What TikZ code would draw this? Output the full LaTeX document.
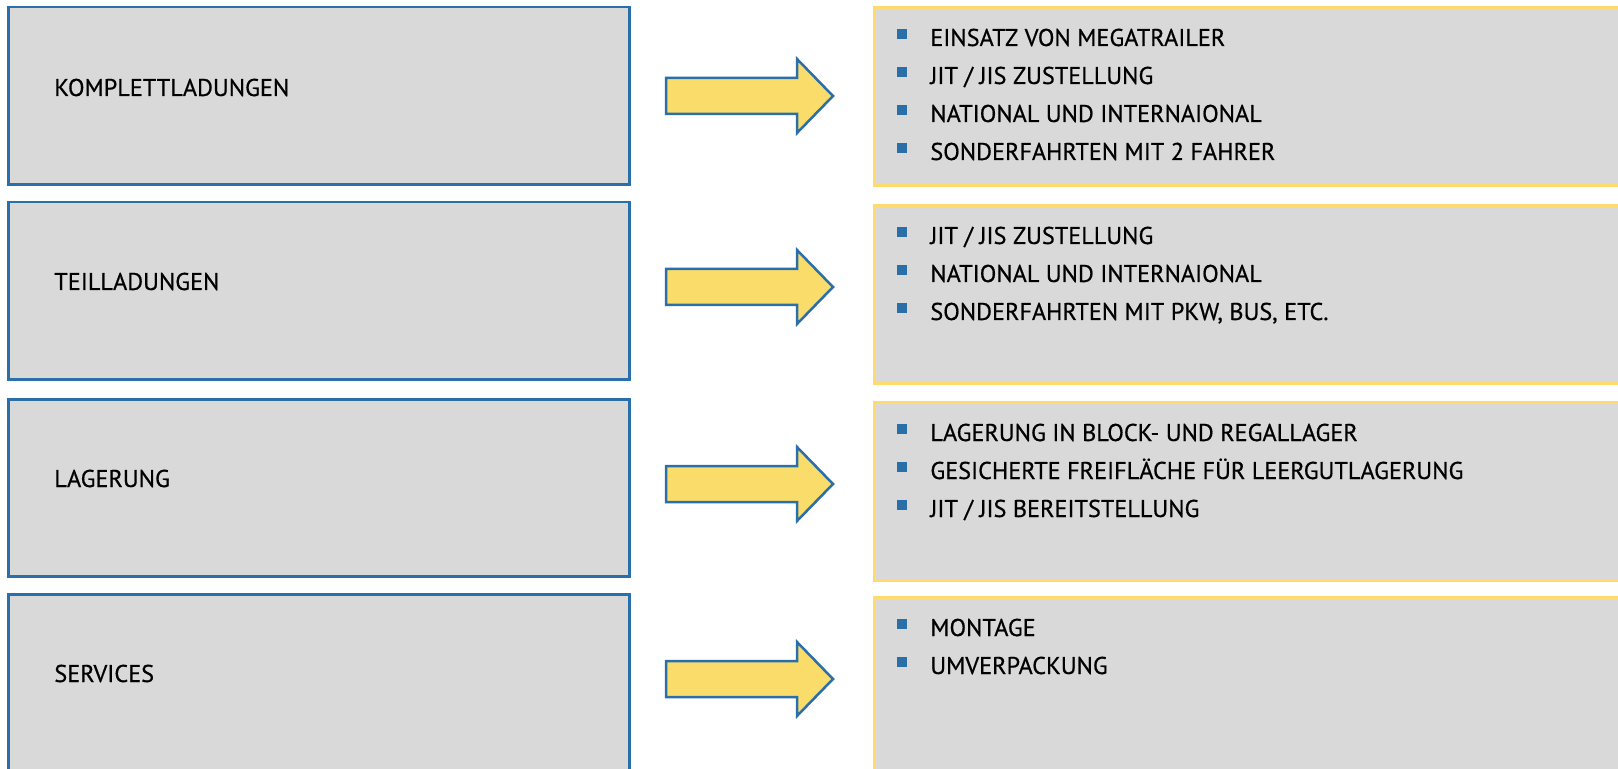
\documentclass[tikz,border=0pt]{standalone}
\usepackage{fontspec}
\setmainfont{PT Sans}
\newfontfamily\labelfont{PT Sans}[FakeBold=0.6]
\usetikzlibrary{positioning}

\definecolor{boxgray}{HTML}{D9D9D9}
\definecolor{boxblue}{HTML}{2A6EAA}
\definecolor{boxyellow}{HTML}{FFDB6E}
\definecolor{arrowyellow}{HTML}{FADC6B}

\newcommand{\sqbullet}{\textcolor{boxblue}{\rule[1.4mm]{2mm}{2mm}}\hspace{4.6mm}}

\tikzset{
  leftbox/.style={draw=boxblue, line width=0.5mm, fill=boxgray, anchor=north west,
    minimum width=124.2mm, minimum height=35.4mm, inner sep=0pt},
  rightbox/.style={draw=boxyellow, line width=0.6mm, fill=boxgray, anchor=north west,
    minimum width=160mm, minimum height=35.6mm, inner sep=0pt},
  caption/.style={anchor=base west, inner sep=0pt, font=\labelfont\fontsize{13.8pt}{16pt}\selectfont},
  listitem/.style={anchor=base west, inner sep=0pt, font=\labelfont\fontsize{13.8pt}{16pt}\selectfont},
  blockarrow/.style={draw=boxblue, line width=0.5mm, fill=arrowyellow, line join=miter}
}

\begin{document}
\begin{tikzpicture}[x=0.2mm, y=-0.2mm]
  \clip (0,0) rectangle (1618,769);
  \fill[white] (0,0) rectangle (1618,769);

  % left column
  \node[leftbox] (komplett) at (7,6) {};
  \node[leftbox] (teil) at (7,201) {};
  \node[leftbox] (lager) at (7,398) {};
  \node[leftbox] (service) at (7,593) {};
  \node[caption] (komplett-text) at (54,96) {KOMPLETTLADUNGEN};
  \node[caption] (teil-text) at (54,290) {TEILLADUNGEN};
  \node[caption] (lager-text) at (54,487) {LAGERUNG};
  \node[caption] (service-text) at (54,682) {SERVICES};

  % arrows
  \coordinate (a1) at (666,96);
  \coordinate (a2) at (666,287);
  \coordinate (a3) at (666,484);
  \coordinate (a4) at (666,679);
  \draw[blockarrow] (a1) ++(0,-18) -- ++(131,0) -- ++(0,-19) -- ++(36,37) -- ++(-36,37) -- ++(0,-19) -- ++(-131,0) -- cycle;
  \draw[blockarrow] (a2) ++(0,-18) -- ++(131,0) -- ++(0,-19) -- ++(36,37) -- ++(-36,37) -- ++(0,-19) -- ++(-131,0) -- cycle;
  \draw[blockarrow] (a3) ++(0,-18) -- ++(131,0) -- ++(0,-19) -- ++(36,37) -- ++(-36,37) -- ++(0,-19) -- ++(-131,0) -- cycle;
  \draw[blockarrow] (a4) ++(0,-18) -- ++(131,0) -- ++(0,-19) -- ++(36,37) -- ++(-36,37) -- ++(0,-19) -- ++(-131,0) -- cycle;

  % right column
  \node[rightbox] (komplett-info) at (873,6) {};
  \node[rightbox] (teil-info) at (873,204) {};
  \node[rightbox] (lager-info) at (873,401) {};
  \node[rightbox] (service-info) at (873,596) {};

  \node[listitem] (k1) at (897,46) {\sqbullet EINSATZ VON MEGATRAILER};
  \node[listitem] (k2) at (897,84) {\sqbullet JIT / JIS ZUSTELLUNG};
  \node[listitem] (k3) at (897,122) {\sqbullet NATIONAL UND INTERNAIONAL};
  \node[listitem] (k4) at (897,160) {\sqbullet SONDERFAHRTEN MIT 2 FAHRER};

  \node[listitem] (t1) at (897,244) {\sqbullet JIT / JIS ZUSTELLUNG};
  \node[listitem] (t2) at (897,282) {\sqbullet NATIONAL UND INTERNAIONAL};
  \node[listitem] (t3) at (897,320) {\sqbullet SONDERFAHRTEN MIT PKW, BUS, ETC.};

  \node[listitem] (l1) at (897,441) {\sqbullet LAGERUNG IN BLOCK- UND REGALLAGER};
  \node[listitem] (l2) at (897,479) {\sqbullet GESICHERTE FREIFLÄCHE FÜR LEERGUTLAGERUNG};
  \node[listitem] (l3) at (897,517) {\sqbullet JIT / JIS BEREITSTELLUNG};

  \node[listitem] (s1) at (897,636) {\sqbullet MONTAGE};
  \node[listitem] (s2) at (897,674) {\sqbullet UMVERPACKUNG};
\end{tikzpicture}
\end{document}
